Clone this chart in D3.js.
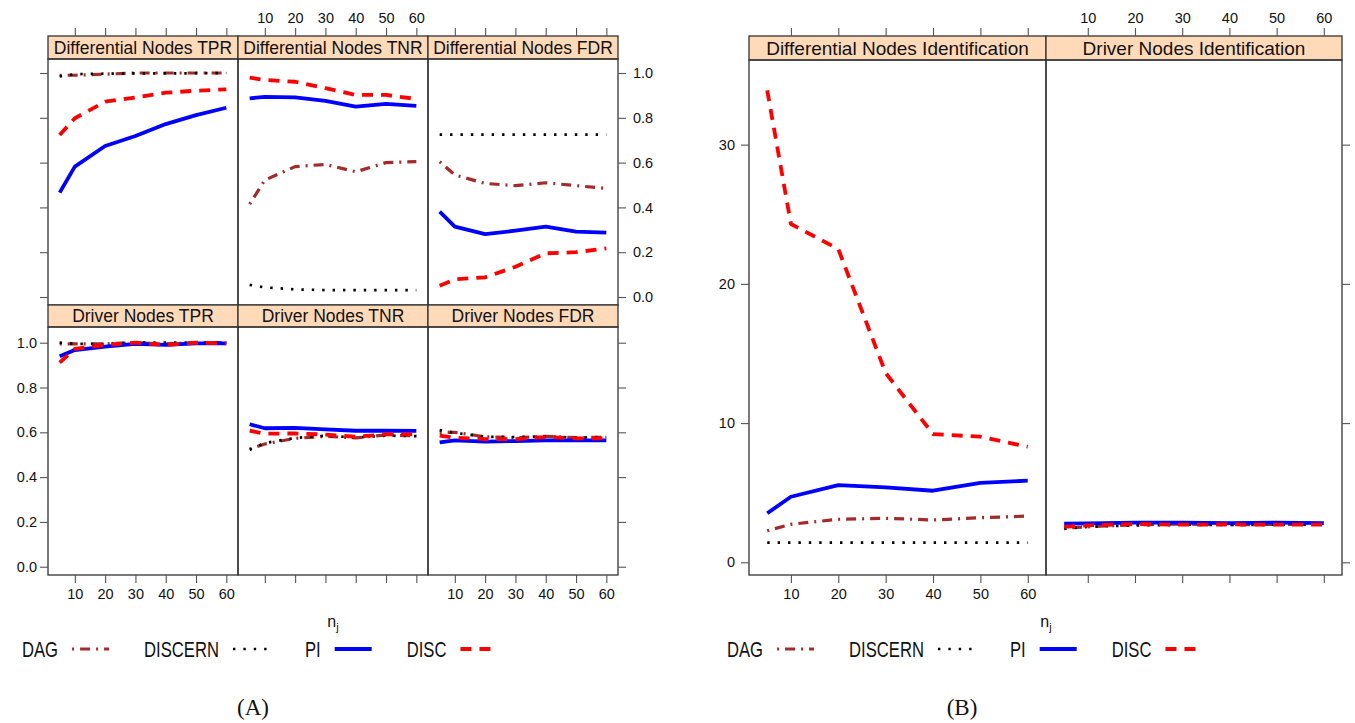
<!DOCTYPE html>
<html><head><meta charset="utf-8">
<script src="https://cdn.jsdelivr.net/npm/d3@7"></script>
<style>
body{margin:0;background:#fff;}
text{font-family:"Liberation Sans",Arial,Helvetica,sans-serif;fill:#111;}
</style></head><body>
<svg id="chart" width="1355" height="723"></svg>
<script>
// ---------------- data ----------------
const nj = [5, 10, 20, 30, 40, 50, 60];
const methods = ["DAG", "DISCERN", "PI", "DISC"];
const xTicks = [10, 20, 30, 40, 50, 60];
const yTicksA = [0, 0.2, 0.4, 0.6, 0.8, 1.0];
const yTicksB = [0, 10, 20, 30];
const panelTitlesA = ["Differential Nodes TPR", "Differential Nodes TNR", "Differential Nodes FDR",
                      "Driver Nodes TPR", "Driver Nodes TNR", "Driver Nodes FDR"];
const panelTitlesB = ["Differential Nodes Identification", "Driver Nodes Identification"];

const diffTPR = {
  DAG:     [0.990, 0.990, 0.995, 1.000, 1.000, 1.000, 1.000],
  DISCERN: [0.985, 0.995, 0.997, 0.998, 0.998, 0.999, 1.000],
  PI:      [0.466, 0.582, 0.674, 0.719, 0.772, 0.812, 0.845],
  DISC:    [0.723, 0.798, 0.872, 0.891, 0.912, 0.921, 0.927]
};
const diffTNR = {
  DAG:     [0.415, 0.522, 0.582, 0.592, 0.559, 0.600, 0.604],
  DISCERN: [0.054, 0.043, 0.034, 0.031, 0.031, 0.031, 0.031],
  PI:      [0.887, 0.893, 0.891, 0.876, 0.850, 0.862, 0.853],
  DISC:    [0.979, 0.969, 0.961, 0.932, 0.902, 0.902, 0.884]
};
const diffFDR = {
  DAG:     [0.604, 0.545, 0.507, 0.497, 0.510, 0.497, 0.485],
  DISCERN: [0.725, 0.725, 0.725, 0.725, 0.725, 0.725, 0.725],
  PI:      [0.381, 0.314, 0.281, 0.296, 0.314, 0.292, 0.287],
  DISC:    [0.050, 0.079, 0.088, 0.135, 0.195, 0.200, 0.217]
};
const drvTPR = {
  DAG:     [0.995, 0.995, 0.995, 1.000, 0.995, 1.000, 1.000],
  DISCERN: [1.000, 0.995, 0.995, 1.000, 1.000, 1.000, 1.000],
  PI:      [0.939, 0.967, 0.982, 0.995, 0.990, 0.997, 0.997],
  DISC:    [0.911, 0.972, 0.990, 1.000, 0.990, 1.000, 0.997]
};
const drvTNR = {
  DAG:     [0.525, 0.548, 0.573, 0.582, 0.575, 0.588, 0.585],
  DISCERN: [0.522, 0.552, 0.575, 0.585, 0.577, 0.585, 0.583],
  PI:      [0.636, 0.618, 0.620, 0.613, 0.607, 0.607, 0.606],
  DISC:    [0.607, 0.594, 0.595, 0.590, 0.580, 0.591, 0.591]
};
const drvFDR = {
  DAG:     [0.600, 0.600, 0.580, 0.576, 0.582, 0.576, 0.578],
  DISCERN: [0.610, 0.598, 0.580, 0.579, 0.582, 0.576, 0.579],
  PI:      [0.555, 0.564, 0.558, 0.561, 0.564, 0.564, 0.564],
  DISC:    [0.585, 0.576, 0.570, 0.570, 0.579, 0.573, 0.573]
};
const diffId = {
  DAG:     [2.27, 2.73, 3.09, 3.16, 3.04, 3.20, 3.32],
  DISCERN: [1.41, 1.41, 1.41, 1.41, 1.41, 1.41, 1.41],
  PI:      [3.52, 4.71, 5.55, 5.38, 5.14, 5.71, 5.86],
  DISC:    [33.9, 24.3, 22.5, 13.6, 9.21, 9.02, 8.30]
};
const drvId = {
  DAG:     [2.45, 2.55, 2.70, 2.75, 2.70, 2.72, 2.72],
  DISCERN: [2.40, 2.55, 2.65, 2.70, 2.68, 2.70, 2.70],
  PI:      [2.78, 2.80, 2.85, 2.85, 2.82, 2.85, 2.82],
  DISC:    [2.55, 2.65, 2.75, 2.70, 2.72, 2.70, 2.70]
};

// ---------------- styles ----------------
const style = {
  DAG:     {color: "#A52A2A", width: 3.2, dash: "2,6,10,6"},
  DISCERN: {color: "#000000", width: 2.7, dash: "2.4,8"},
  PI:      {color: "#0000FF", width: 3.8, dash: null},
  DISC:    {color: "#FF0000", width: 3.8, dash: "11,8"}
};
const STRIP = "#ffdab9";
const FRAME = "#333";
const TICKFONT = 14.5;

const svg = d3.select("#chart");
const xDomain = [1.15, 63.85];

function drawAxis(g, axis, transform, labelled, pad) {
  axis.tickSize(8).tickPadding(pad);
  if (!labelled) axis.tickFormat(() => "");
  const a = g.append("g").attr("transform", transform).call(axis);
  a.select(".domain").remove();
  a.selectAll(".tick line").attr("stroke", "#555").attr("stroke-width", 1.1);
  a.selectAll(".tick text").style("font-size", TICKFONT + "px").attr("fill", "#111")
    .style("font-family", '"Liberation Sans",Arial,Helvetica,sans-serif');
  return a;
}

function drawPanel(g, x0, x1, stripTop, stripBot, bot, title, data, yScale, titleSize) {
  const x = d3.scaleLinear().domain(xDomain).range([x0, x1]);
  g.append("rect").attr("x", x0).attr("y", stripTop).attr("width", x1 - x0).attr("height", stripBot - stripTop)
    .attr("fill", STRIP).attr("stroke", FRAME).attr("stroke-width", 1.3);
  g.append("text").attr("x", (x0 + x1) / 2).attr("y", (stripTop + stripBot) / 2 + 0.36 * titleSize)
    .attr("text-anchor", "middle").style("font-size", titleSize + "px").text(title);
  g.append("rect").attr("x", x0).attr("y", stripBot).attr("width", x1 - x0).attr("height", bot - stripBot)
    .attr("fill", "none").attr("stroke", FRAME).attr("stroke-width", 1.3);
  const line = d3.line().x((d, i) => x(nj[i])).y(d => yScale(d));
  methods.forEach(m => {
    const s = style[m];
    g.append("path").datum(data[m]).attr("d", line).attr("fill", "none")
      .attr("stroke", s.color).attr("stroke-width", s.width)
      .attr("stroke-dasharray", s.dash).attr("stroke-linejoin", "round");
  });
  return x;
}

// ---------------- Figure A ----------------
const gA = svg.append("g");
const colsA = [48, 238, 428, 618];
const rowsA = [{st: 36, sb: 59, b: 305}, {st: 305, sb: 327, b: 575}];
const dataA = [diffTPR, diffTNR, diffFDR, drvTPR, drvTNR, drvFDR];
const yA = [
  d3.scaleLinear().domain([-0.0357, 1.0625]).range([305, 59]),
  d3.scaleLinear().domain([-0.037, 1.0701]).range([575, 327])
];
const xA = [];
for (let r = 0; r < 2; r++) {
  for (let c = 0; c < 3; c++) {
    const xs = drawPanel(gA, colsA[c], colsA[c + 1], rowsA[r].st, rowsA[r].sb, rowsA[r].b,
      panelTitlesA[r * 3 + c], dataA[r * 3 + c], yA[r], 17.5);
    if (r === 0) xA.push(xs);
  }
}
for (let c = 0; c < 3; c++) {
  drawAxis(gA, d3.axisTop(xA[c]).tickValues(xTicks), "translate(0,36)", c === 1, 5);
  drawAxis(gA, d3.axisBottom(xA[c]).tickValues(xTicks), "translate(0,575)", c !== 1, 6);
}
drawAxis(gA, d3.axisLeft(yA[0]).tickValues(yTicksA), "translate(48,0)", false, 3);
drawAxis(gA, d3.axisLeft(yA[1]).tickValues(yTicksA).tickFormat(d3.format(".1f")), "translate(48,0)", true, 3);
drawAxis(gA, d3.axisRight(yA[0]).tickValues(yTicksA).tickFormat(d3.format(".1f")), "translate(618,0)", true, 7);
drawAxis(gA, d3.axisRight(yA[1]).tickValues(yTicksA), "translate(618,0)", false, 7);

// ---------------- Figure B ----------------
const gB = svg.append("g");
const colsB = [749, 1046, 1342];
const yB = d3.scaleLinear().domain([-0.912, 36.08]).range([575, 60]);
const dataB = [diffId, drvId];
const xB = [];
for (let c = 0; c < 2; c++) {
  xB.push(drawPanel(gB, colsB[c], colsB[c + 1], 36, 60, 575, panelTitlesB[c], dataB[c], yB, 19));
}
for (let c = 0; c < 2; c++) {
  drawAxis(gB, d3.axisTop(xB[c]).tickValues(xTicks), "translate(0,36)", c === 1, 5);
  drawAxis(gB, d3.axisBottom(xB[c]).tickValues(xTicks), "translate(0,575)", c === 0, 6);
}
drawAxis(gB, d3.axisLeft(yB).tickValues(yTicksB), "translate(749,0)", true, 6);
drawAxis(gB, d3.axisRight(yB).tickValues(yTicksB), "translate(1342,0)", false, 6);

// ---------------- x labels, legends, captions ----------------
function xlab(cx) {
  const t = svg.append("text").attr("x", cx).attr("y", 626.5).attr("text-anchor", "middle")
    .style("font-size", "16px");
  t.append("tspan").text("n");
  t.append("tspan").attr("dy", 4).style("font-size", "11px").text("j");
}
xlab(333);
xlab(1046);

const LEGFONT = 22.5, LEGSCALE = 0.74, SYMLEN = 37;
function legend(x0) {
  let x = x0;
  const yb = 657, ys = 649;
  methods.forEach(m => {
    const t = svg.append("text").attr("transform", `translate(${x},${yb}) scale(${LEGSCALE},1)`)
      .style("font-size", LEGFONT + "px").text(m);
    const w = t.node().getComputedTextLength() * LEGSCALE;
    const sx = x + w + 14;
    const s = style[m];
    svg.append("line").attr("x1", sx).attr("x2", sx + SYMLEN).attr("y1", ys).attr("y2", ys)
      .attr("stroke", s.color).attr("stroke-width", s.width).attr("stroke-dasharray", s.dash);
    x = sx + SYMLEN + 35;
  });
}
legend(22);
legend(727);

svg.append("text").attr("x", 253).attr("y", 715).attr("text-anchor", "middle")
  .style("font-family", '"Liberation Serif","Times New Roman",serif').style("font-size", "23px").text("(A)");
svg.append("text").attr("x", 962).attr("y", 715).attr("text-anchor", "middle")
  .style("font-family", '"Liberation Serif","Times New Roman",serif').style("font-size", "23px").text("(B)");
</script>
</body></html>
